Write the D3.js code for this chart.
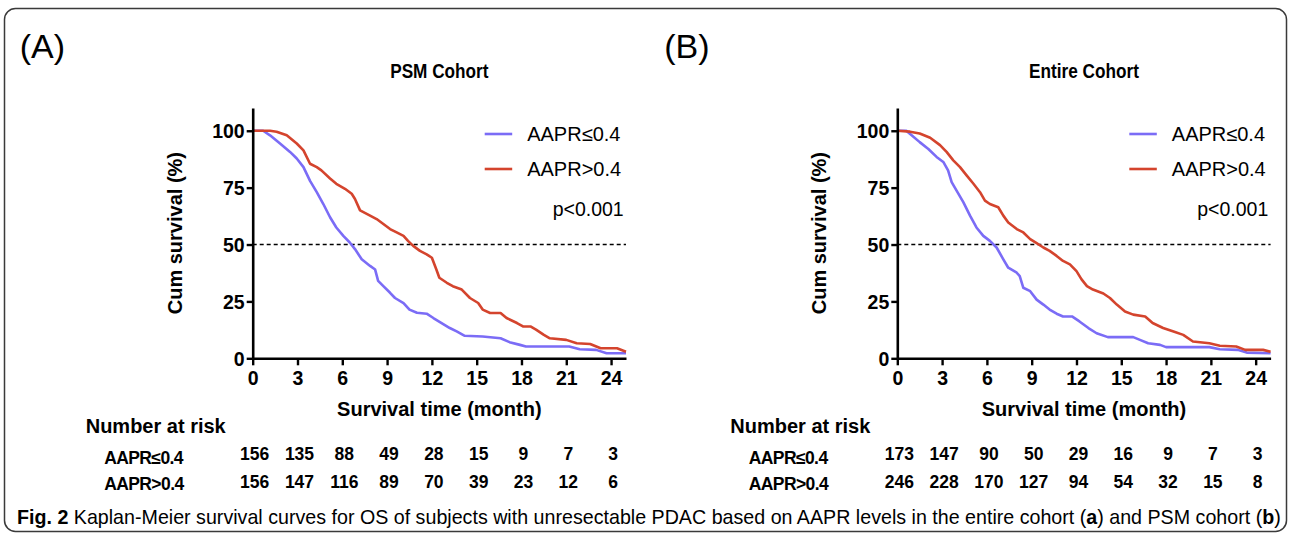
<!DOCTYPE html>
<html>
<head>
<meta charset="utf-8">
<script src="https://cdn.jsdelivr.net/npm/d3@7"></script>
<style>
  body { margin: 0; background: #fff; }
  svg { display: block; }
  text { font-family: Arial, "Liberation Sans", Helvetica, sans-serif; }
</style>
</head>
<body>
<svg id="chart" width="1292" height="535"></svg>
<script>
// ---- data ----
const riskMonths = [0, 3, 6, 9, 12, 15, 18, 21, 24];
const xTicks = [0, 3, 6, 9, 12, 15, 18, 21, 24];
const yTicks = [0, 25, 50, 75, 100];
const groupNames = ["AAPR≤0.4", "AAPR>0.4"];

// PSM cohort, [month, survival %]
const psmLow = [[0,100],[0.7,100],[1.16,98],[1.83,94.4],[2.5,90.7],[2.95,87.8],[3.4,84],[3.84,78],[4.29,73],[4.73,67.8],[5.18,62],[5.6,57.5],[6.07,53.8],[6.5,50.9],[6.85,48],[7.3,43.5],[7.86,40.6],[8.2,39],[8.4,34],[8.75,31.7],[9.2,28.8],[9.53,26.5],[10.1,24.3],[10.5,21.4],[11,20],[11.65,19.6],[12.1,17.7],[12.65,15.5],[13.2,13.3],[13.66,11.8],[14.2,9.9],[15.4,9.6],[16.6,8.8],[17.2,7.1],[17.9,5.9],[18.3,5.2],[21.2,5.2],[21.9,4],[23,3.7],[23.7,2.2],[25,2.2]];
const psmHigh = [[0,100],[1.16,100],[1.6,99.6],[2.28,98],[2.95,94.4],[3.4,91.4],[3.84,85.5],[4.29,84],[4.6,82.6],[5.18,79],[5.6,76.7],[6.18,74.5],[6.63,72.3],[6.85,70],[7.19,65],[7.86,62.7],[8.3,61.2],[8.75,59],[9.2,56.8],[9.64,55.3],[10.1,53.8],[10.4,51.6],[10.75,49.4],[11.2,47.2],[11.65,45.7],[12,44.2],[12.3,39],[12.5,35.4],[13,33.2],[13.4,31.7],[14,30.2],[14.55,26.5],[15.1,24.3],[15.4,21.4],[15.9,19.9],[16.6,19.9],[17,17.7],[17.7,15.5],[18.1,14],[18.6,14],[19,12.5],[19.5,10.3],[19.9,8.8],[21,8.1],[21.7,6.6],[22.6,6.3],[23.3,4.4],[24.4,4.4],[25,2.9]];
const psmRiskLow = [156, 135, 88, 49, 28, 15, 9, 7, 3];
const psmRiskHigh = [156, 147, 116, 89, 70, 39, 23, 12, 6];

// Entire cohort
const entireLow = [[0,100],[0.6,100],[0.96,98],[1.5,95],[2.08,92],[2.63,88.5],[3.08,86.3],[3.4,82.6],[3.64,77.4],[3.97,73.7],[4.42,68.6],[4.87,62.7],[5.3,57.5],[5.76,53.8],[6.2,51.6],[6.65,48.7],[7.1,43.5],[7.43,39.8],[8,37.6],[8.2,36.1],[8.44,31],[8.9,29.5],[9.33,25.8],[9.78,23.6],[10.2,21.4],[10.67,19.6],[11.1,18.4],[11.7,18.4],[12.2,16.2],[12.8,13.3],[13.35,11],[14.1,9.3],[15.8,9.3],[16.25,8.1],[16.8,6.6],[17.6,5.9],[18,4.9],[20.9,4.9],[21.6,4],[22.8,3.7],[23.4,2.5],[25,2.2]];
const entireHigh = [[0,100],[0.85,99.6],[1.5,98.8],[2.2,96.9],[2.86,93.7],[3.3,90.7],[3.75,87],[4.2,84],[4.64,80.4],[5.1,76.7],[5.54,73],[5.87,69.3],[6.2,67.8],[6.76,66.4],[7.1,62.7],[7.43,59.7],[8,56.8],[8.44,55.3],[8.9,52.4],[9.33,50.6],[9.78,48.7],[10.2,47.2],[10.67,45],[11.1,42.8],[11.56,41.3],[12,38.3],[12.34,34.7],[12.7,31.7],[13.1,30.2],[13.8,28.5],[14.24,26.5],[14.7,23.6],[15.25,20.6],[15.8,19.2],[16.6,18.4],[17.1,15.5],[17.8,13.3],[18.5,11.8],[19.15,10.3],[19.8,7.4],[20.9,6.6],[21.6,5.5],[22.7,5.2],[23.3,3.7],[24.5,3.7],[25,2.9]];
const entireRiskLow = [173, 147, 90, 50, 29, 16, 9, 7, 3];
const entireRiskHigh = [246, 228, 170, 127, 94, 54, 32, 15, 8];

const colors = ["#7b6cf6", "#d4442d"];

const panels = [
  { left: 252.7, tag: "(A)", title: "PSM Cohort", curves: [psmLow, psmHigh], risk: [psmRiskLow, psmRiskHigh] },
  { left: 897.3, tag: "(B)", title: "Entire Cohort", curves: [entireLow, entireHigh], risk: [entireRiskLow, entireRiskHigh] }
];

const svg = d3.select("#chart");
const FONT = "Arial, 'Liberation Sans', Helvetica, sans-serif";

// outer frame
svg.append("rect")
  .attr("x", 4.5).attr("y", 8.5)
  .attr("width", 1282).attr("height", 523)
  .attr("rx", 11)
  .attr("fill", "none")
  .attr("stroke", "#3a3a3a")
  .attr("stroke-width", 1.5);

const plotW = 373.3;
const yTop = 108, yBottom = 358.3;

panels.forEach(p => {
  const x = d3.scaleLinear().domain([0, 25]).range([p.left, p.left + plotW]);
  const y = d3.scaleLinear().domain([0, 110]).range([yBottom, yTop]);
  const g = svg.append("g");

  // panel tag + title (title is a narrow bold face, so squeeze it a bit)
  svg.append("text")
    .attr("x", p.left - 233).attr("y", 58)
    .style("font-size", "34px")
    .text(p.tag);
  svg.append("text")
    .attr("transform", `translate(${p.left + plotW / 2},78) scale(0.86,1)`)
    .attr("text-anchor", "middle")
    .style("font-size", "20px").style("font-weight", "bold")
    .text(p.title);

  // 50% reference line
  g.append("line")
    .attr("x1", x(0)).attr("x2", x(25))
    .attr("y1", y(50)).attr("y2", y(50))
    .attr("stroke", "#000").attr("stroke-width", 1.4)
    .attr("stroke-dasharray", "4,3");

  // curves
  const line = d3.line().x(d => x(d[0])).y(d => y(d[1]));
  p.curves.forEach((c, i) => {
    g.append("path")
      .datum(c)
      .attr("d", line)
      .attr("fill", "none")
      .attr("stroke", colors[i])
      .attr("stroke-width", 2.6)
      .attr("stroke-linejoin", "round");
  });

  // axes
  const yAxis = g.append("g")
    .attr("transform", `translate(${x(0)},0)`)
    .call(d3.axisLeft(y).tickValues(yTicks).tickSize(6).tickPadding(2).tickSizeOuter(0));
  const xAxis = g.append("g")
    .attr("transform", `translate(0,${y(0)})`)
    .call(d3.axisBottom(x).tickValues(xTicks).tickSize(7).tickPadding(6).tickSizeOuter(0));
  [yAxis, xAxis].forEach(a => {
    a.attr("font-family", FONT);
    a.select(".domain").attr("stroke", "#000").attr("stroke-width", 2.6);
    a.selectAll(".tick line").attr("stroke", "#000").attr("stroke-width", 2.4);
    a.selectAll(".tick text")
      .attr("fill", "#000")
      .style("font-family", FONT)
      .style("font-size", "19.5px").style("font-weight", "bold");
  });
  yAxis.selectAll(".tick text").attr("dy", "0.36em");

  // axis titles
  svg.append("text")
    .attr("transform", `translate(${p.left - 71},${y(55)}) rotate(-90)`)
    .attr("text-anchor", "middle")
    .style("font-size", "20px").style("font-weight", "bold")
    .text("Cum survival (%)");
  svg.append("text")
    .attr("x", x(12.5)).attr("y", 416)
    .attr("text-anchor", "middle")
    .style("font-size", "20px").style("font-weight", "bold")
    .text("Survival time (month)");

  // legend
  const legY = [134, 169];
  groupNames.forEach((name, i) => {
    svg.append("line")
      .attr("x1", p.left + 232).attr("x2", p.left + 259.5)
      .attr("y1", legY[i]).attr("y2", legY[i])
      .attr("stroke", colors[i]).attr("stroke-width", 2.6);
    svg.append("text")
      .attr("x", p.left + 274.5).attr("y", legY[i] + 7.2)
      .style("font-size", "20px")
      .text(name);
  });
  svg.append("text")
    .attr("x", p.left + 371).attr("y", 216)
    .attr("text-anchor", "end")
    .style("font-size", "19.5px")
    .text("p<0.001");

  // number at risk table
  svg.append("text")
    .attr("x", p.left - 167).attr("y", 433)
    .style("font-size", "20px").style("font-weight", "bold")
    .text("Number at risk");
  const rowY = [459.5, 487.5];
  const labelY = [464, 490];
  groupNames.forEach((name, i) => {
    svg.append("text")
      .attr("x", p.left - 148.5).attr("y", labelY[i])
      .style("font-size", "17.5px").style("font-weight", "bold")
      .style("letter-spacing", "-0.6px")
      .text(name);
    svg.append("g").selectAll("text")
      .data(p.risk[i])
      .join("text")
      .attr("x", (d, j) => x(riskMonths[j]) + 2)
      .attr("y", rowY[i])
      .attr("text-anchor", "middle")
      .style("font-size", "17.5px").style("font-weight", "bold")
      .text(d => d);
  });
});

// caption: one text line, squeezed horizontally to the frame width
const cap = svg.append("text")
  .attr("x", 0).attr("y", 0)
  .style("font-size", "20.5px");
cap.append("tspan").style("font-weight", "bold").text("Fig. 2");
cap.append("tspan").text(" Kaplan-Meier survival curves for OS of subjects with unresectable PDAC based on AAPR levels in the entire cohort (");
cap.append("tspan").style("font-weight", "bold").text("a");
cap.append("tspan").text(") and PSM cohort (");
cap.append("tspan").style("font-weight", "bold").text("b");
cap.append("tspan").text(")");
const capLen = cap.node().getComputedTextLength();
cap.attr("transform", `translate(17,524) scale(${1264 / capLen},1)`);
</script>
</body>
</html>
